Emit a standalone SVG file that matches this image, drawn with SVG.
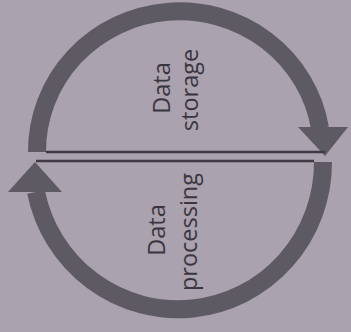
<svg xmlns="http://www.w3.org/2000/svg" width="351" height="332" viewBox="0 0 351 332">
  <style>
    .band{fill:none;stroke:#5e5a63;stroke-width:18}
    .head{fill:#5e5a63}
    .rule{stroke:#3e3b43;stroke-width:2.5}
    .lbl{font-family:"Open Sans","Liberation Sans",sans-serif;font-size:23.5px;fill:#3a3640;text-anchor:middle}
  </style>
  <rect x="0" y="0" width="351" height="332" fill="#aaa2ae"/>
  <g id="connectors">
    <path class="band" d="M 37 152 A 142.5 140 0 0 1 320 128"/>
    <polygon class="head" points="298,127 348,127 325,156"/>
    <path class="band" d="M 323 162 A 145 147 0 0 1 36 192"/>
    <polygon class="head" points="8,192 62,192 35,162"/>
  </g>
  <g id="dividers">
    <line class="rule" x1="46" y1="152" x2="325" y2="152"/>
    <line class="rule" x1="36" y1="161" x2="314" y2="161"/>
  </g>
  <g id="storage">
    <text class="lbl" transform="translate(170,88) rotate(-90)">Data</text>
    <text class="lbl" transform="translate(198,90) rotate(-90)">storage</text>
  </g>
  <g id="processing">
    <text class="lbl" transform="translate(165,230) rotate(-90)">Data</text>
    <text class="lbl" transform="translate(197,232) rotate(-90)">processing</text>
  </g>
</svg>
